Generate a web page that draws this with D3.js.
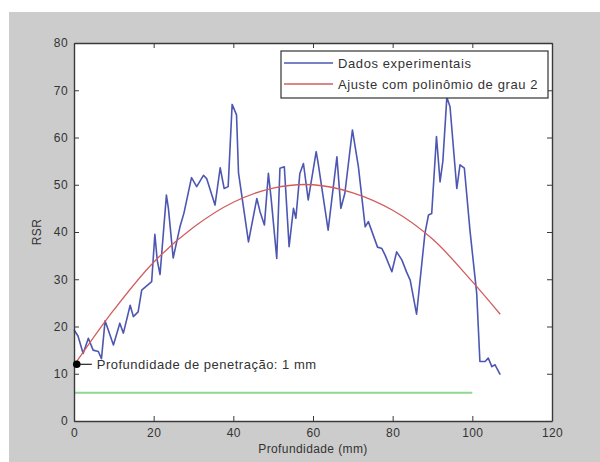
<html>

<head>
  <script src="https://d3js.org/d3.v7.min.js"></script>
  <style>
    body {
      margin: 0;
      background-color: white;
    }

    text {
      font-family: "Liberation Sans", Arial, sans-serif;
      fill: #333;
    }

    .axis path,
    .axis line {
      stroke: #3a3a3a;
    }

    .axis text {
      font-size: 12px;
      letter-spacing: 0.4px;
    }
  </style>
</head>

<body>
  <div id="chart"></div>
</body>

<script>
  // Data
  var depth = [0, 1, 2.3, 3.6, 4.8, 6.1, 6.9, 7.8, 9.9, 11.5, 12.4, 14.1, 14.9, 16.1, 17, 19.5,
    20.3, 20.9, 21.6, 23.2, 23.7, 24.9, 26.6, 27.6, 29.5, 30.8, 32.5, 33.3, 35.4, 36.7, 37.7,
    38.7, 39.7, 40.8, 41.3, 43.8, 45.9, 46.7, 47.8, 48.8, 49.5, 50.9, 51.7, 52.8, 54, 55.1, 55.7,
    56.7, 57.6, 58.8, 60.8, 61.3, 63.8, 66, 67, 68, 69.9, 71.4, 73.1, 73.9, 76.2, 77.3, 78.1, 79.8,
    81, 82.3, 83.5, 84.4, 86, 88.1, 89, 89.8, 91, 91.9, 92.6, 93.6, 94.4, 96.1, 96.9, 98,
    99.4, 101.1, 101.9, 103.2, 104, 104.9, 105.7, 107];
  var rsr = [19.3, 18, 14.3, 17.5, 15, 14.7, 13.2, 21.2, 16.1, 20.7, 18.6, 24.5, 22.1, 23.1, 27.7, 29.5,
    39.5, 34, 31, 47.8, 45, 34.5, 41.1, 44, 51.5, 49.6, 52, 51.3, 45.7, 53.6, 49.2,
    49.6, 67, 64.8, 52.5, 37.9, 47.1, 44.3, 41.5, 52.4, 47, 34.4, 53.5, 53.8, 36.9, 45, 42.9,
    52.4, 54.5, 46.8, 57, 54.5, 40.4, 55.9, 45, 48.2, 61.6, 53.8, 41.1, 42.2, 36.8, 36.5, 35.1, 31.6,
    35.8, 34.1, 31.5, 29.8, 22.6, 39.7, 43.6, 43.9, 60.2, 50.6, 55, 68.5, 66.5, 49.2, 54.2, 53.5,
    40.4, 27, 12.6, 12.6, 13.3, 11.5, 11.9, 9.8];

  // polynomial fit (degree 2)
  var fitDepth = [0.7, 10, 20, 30, 40, 50, 60, 70, 80, 90, 100, 107];
  var fitRsr = [12.6, 23.5, 33.6, 41, 46.3, 49.3, 50, 48.3, 44.6, 38.5, 29.5, 22.6];

  var penDepth = [0.7], penRsr = [12];
  var limitDepth = [0, 100], limitRsr = [6, 6];

  var xTicks = [0, 20, 40, 60, 80, 100, 120];
  var yTicks = [0, 10, 20, 30, 40, 50, 60, 70, 80];
  var legendLabels = ["Dados experimentais", "Ajuste com polinômio de grau 2"];

  var width = 600, height = 462;
  var plotLeft = 74, plotRight = 552, plotTop = 43, plotBottom = 421;

  var svg = d3.select("#chart").append("svg")
    .attr("width", width).attr("height", height);

  // figure background
  svg.append("rect").attr("x", 9).attr("y", 12)
    .attr("width", width - 9).attr("height", height - 12).style("fill", "#cccccc");

  svg.append("rect").attr("x", plotLeft).attr("y", plotTop)
    .attr("width", plotRight - plotLeft).attr("height", plotBottom - plotTop).style("fill", "white");

  var x = d3.scaleLinear().domain([0, 120]).range([plotLeft, plotRight]);
  var y = d3.scaleLinear().domain([0, 80]).range([plotBottom, plotTop]);

  // green limit line
  svg.append("line")
    .attr("x1", x(limitDepth[0])).attr("y1", y(limitRsr[0]))
    .attr("x2", x(limitDepth[1])).attr("y2", y(limitRsr[1]))
    .style("stroke", "#8fd88f").style("stroke-width", 2);

  var line = d3.line()
    .x(function(d) { return x(d[0]); })
    .y(function(d) { return y(d[1]); });

  var fitLine = d3.line()
    .x(function(d) { return x(d[0]); })
    .y(function(d) { return y(d[1]); })
    .curve(d3.curveCatmullRom);

  svg.append("path")
    .datum(d3.zip(depth, rsr))
    .attr("d", line)
    .style("fill", "none").style("stroke", "#4d57b2").style("stroke-width", 1.6)
    .style("stroke-linejoin", "round");

  svg.append("path")
    .datum(d3.zip(fitDepth, fitRsr))
    .attr("d", fitLine)
    .style("fill", "none").style("stroke", "#d25c5c").style("stroke-width", 1.3);

  // axes with inward ticks, boxed
  svg.append("g").attr("class", "axis").attr("transform", "translate(0," + plotBottom + ")")
    .call(d3.axisBottom(x).tickValues(xTicks).tickSizeInner(-5).tickSizeOuter(0).tickPadding(7));
  svg.append("g").attr("class", "axis").attr("transform", "translate(0," + plotTop + ")")
    .call(d3.axisTop(x).tickValues(xTicks).tickSizeInner(-5).tickSizeOuter(0).tickFormat(""));
  svg.append("g").attr("class", "axis").attr("transform", "translate(" + plotLeft + ",0)")
    .call(d3.axisLeft(y).tickValues(yTicks).tickSizeInner(-5).tickSizeOuter(0).tickPadding(6));
  svg.append("g").attr("class", "axis").attr("transform", "translate(" + plotRight + ",0)")
    .call(d3.axisRight(y).tickValues(yTicks).tickSizeInner(-5).tickSizeOuter(0).tickFormat(""));

  svg.selectAll(".axis .domain").style("stroke-width", 1.4);

  // axis titles
  svg.append("text").attr("x", (plotLeft + plotRight) / 2).attr("y", 453)
    .attr("text-anchor", "middle").style("font-size", "12px").style("letter-spacing", "0.4px")
    .text("Profundidade (mm)");
  svg.append("text").attr("transform", "translate(41," + y(40) + ") rotate(-90)")
    .attr("text-anchor", "middle").style("font-size", "12px").style("letter-spacing", "0.4px")
    .text("RSR");

  // penetration depth marker
  var px = x(penDepth[0]), py = y(penRsr[0]);
  svg.append("circle").attr("cx", px).attr("cy", py).attr("r", 3.8).style("fill", "black");
  svg.append("line").attr("x1", px + 3).attr("y1", py).attr("x2", px + 15).attr("y2", py)
    .style("stroke", "#222").style("stroke-width", 1.2);
  svg.append("text").attr("x", px + 20).attr("y", py + 4.5)
    .style("font-size", "13px").style("letter-spacing", "0.5px")
    .text("Profundidade de penetração: 1 mm");

  // legend
  var legend = svg.append("g");
  legend.append("rect").attr("x", 281).attr("y", 51).attr("width", 267).attr("height", 47)
    .style("fill", "white").style("stroke", "#333").style("stroke-width", 1.2);

  var legendColors = ["#4d57b2", "#d25c5c"];
  legendLabels.forEach(function(label, i) {
    var ly = 63 + i * 21;
    legend.append("line").attr("x1", 284).attr("x2", 333).attr("y1", ly).attr("y2", ly)
      .style("stroke", legendColors[i]).style("stroke-width", 1.5);
    legend.append("text").attr("x", 338).attr("y", ly + 4.5)
      .style("font-size", "13px").style("letter-spacing", "0.6px")
      .text(label);
  });
</script>

</html>
